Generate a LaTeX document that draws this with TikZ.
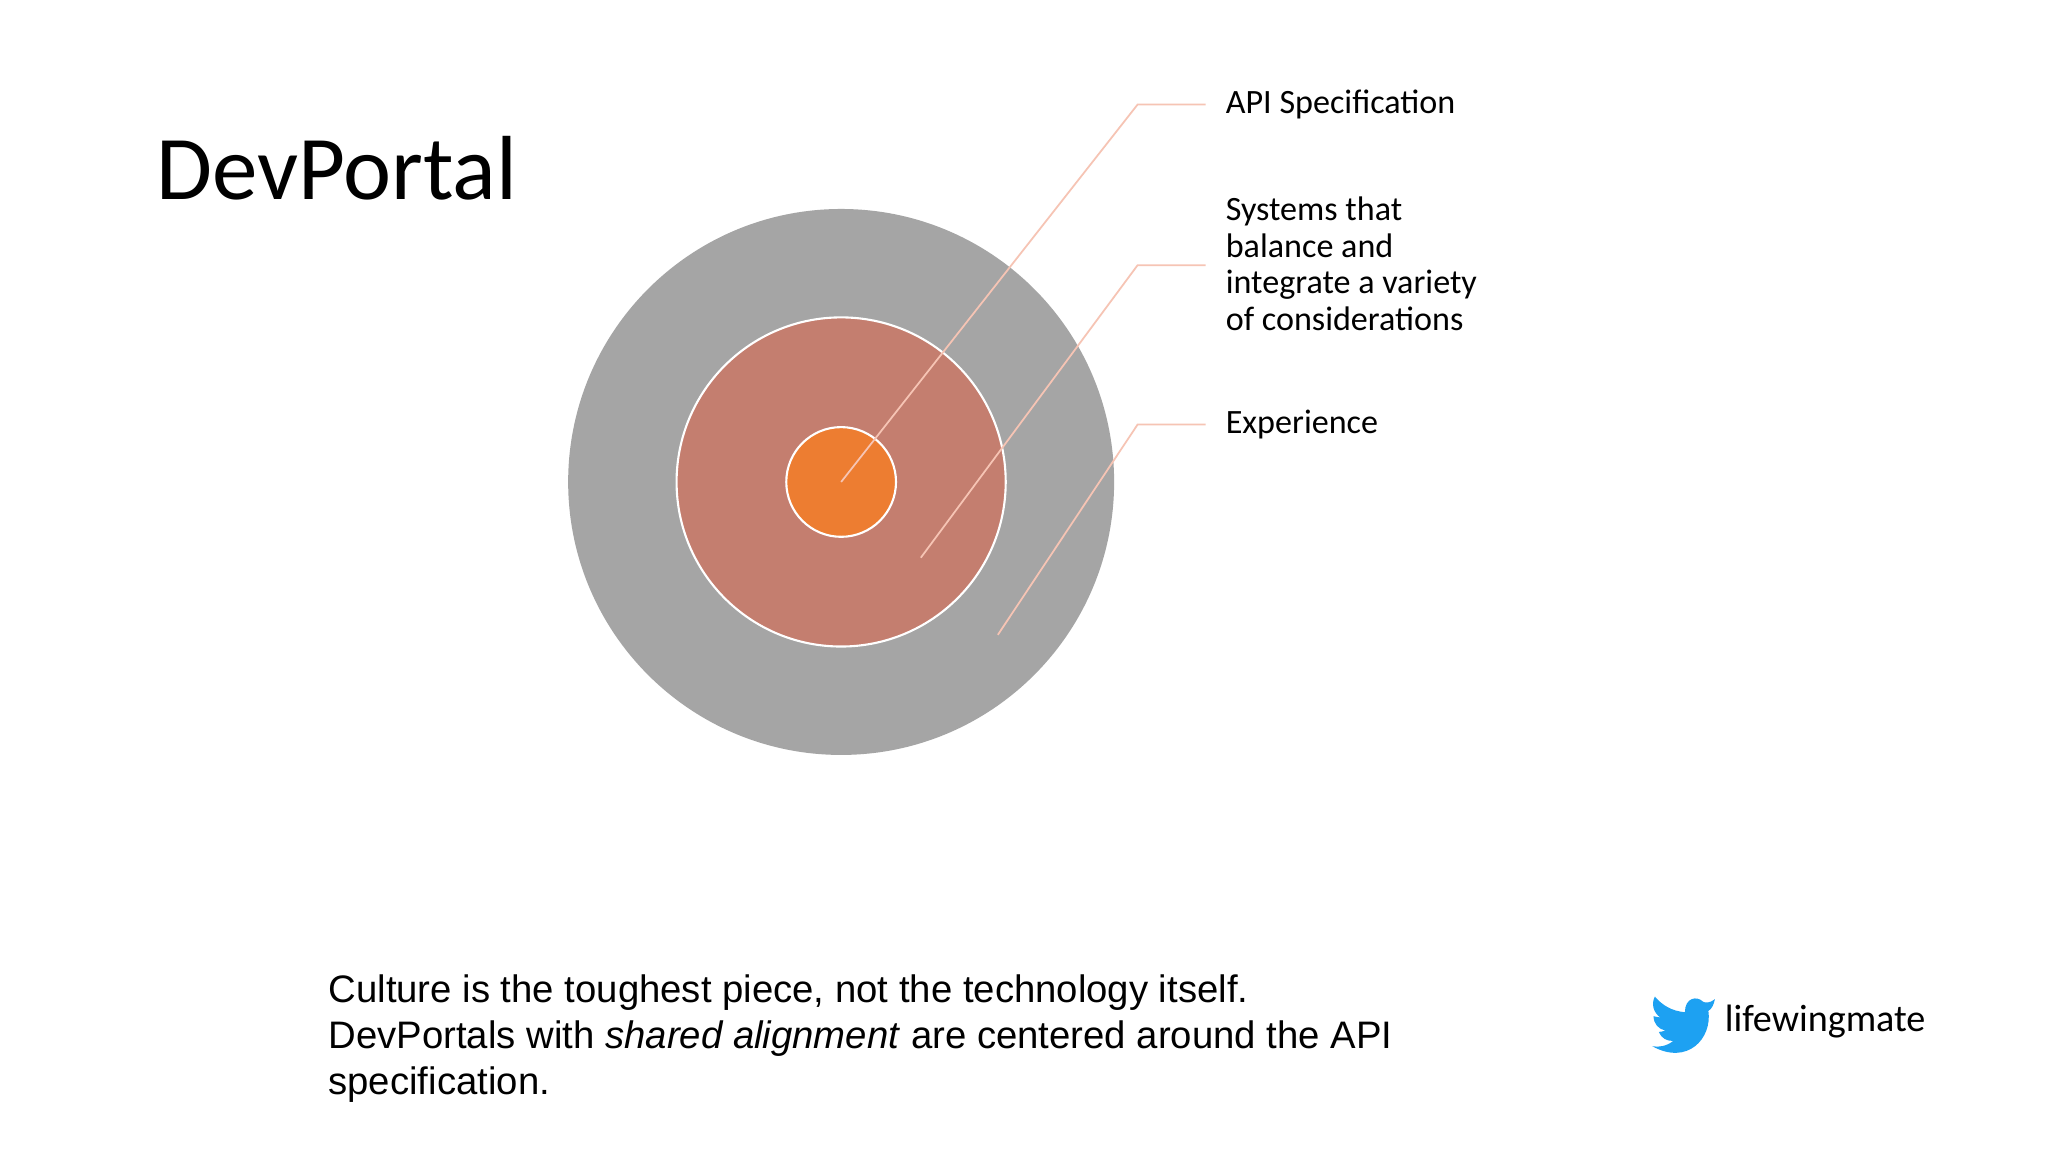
\documentclass[tikz,border=0pt]{standalone}
\usepackage{fontspec}
\setmainfont{Carlito}
\newfontfamily\arialf{Liberation Sans}
\definecolor{outerg}{RGB}{165,165,165}
\definecolor{midr}{RGB}{196,126,111}
\definecolor{orng}{RGB}{237,125,49}
\definecolor{callc}{RGB}{246,196,180}
\definecolor{twb}{RGB}{29,161,242}
\begin{document}
\begin{tikzpicture}[x=0.013061cm,y=-0.013061cm,
  callout/.style={draw=callc,line width=0.5pt},
  lbl/.style={anchor=west,font=\fontsize{9.7}{10.5}\selectfont,align=left,inner sep=0pt}]
\useasboundingbox (0,0) rectangle (1568,882);
\fill[white] (0,0) rectangle (1568,882);
\node[anchor=base west,inner sep=0pt,font=\fontsize{25.9}{30}\selectfont] (title) at (119,153) {DevPortal};
\fill[outerg] (644,369) circle (209);
\filldraw[fill=midr,draw=white,line width=0.6pt] (644,369) circle (126);
\filldraw[fill=orng,draw=white,line width=0.6pt] (644,369) circle (42);
\coordinate (p1) at (644,369); \coordinate (k1) at (871,80); \coordinate (e1) at (923,80);
\coordinate (p2) at (705,427); \coordinate (k2) at (871,203); \coordinate (e2) at (923,203);
\coordinate (p3) at (764,486); \coordinate (k3) at (871,325); \coordinate (e3) at (923,325);
\draw[callout] (p1)--(k1)--(e1);
\draw[callout] (p2)--(k2)--(e2);
\draw[callout] (p3)--(k3)--(e3);
\node[lbl] (l1) at (938,80) {API Specification};
\node[lbl] (l2) at (938,202) {Systems that\\balance and\\integrate a variety\\of considerations};
\node[lbl] (l3) at (938,325) {Experience};
\node[anchor=north west,inner sep=0pt,align=left,font=\arialf\fontsize{10.9}{13}\selectfont] (foot) at (251,746)
 {Culture is the toughest piece, not the technology itself.\\DevPortals with \textit{shared alignment} are centered around the API\\specification.};
\fill[twb]
 (1313,765) .. controls (1309,768) and (1306,768) .. (1304,767)
 .. controls (1299,762) and (1290,764) .. (1290,775)
 .. controls (1280,774) and (1273,770) .. (1267,763)
 .. controls (1264,769) and (1266,775) .. (1271,779)
 .. controls (1269,779) and (1267,778) .. (1266,778)
 .. controls (1266,784) and (1270,788) .. (1275,789)
 .. controls (1273,790) and (1271,790) .. (1270,790)
 .. controls (1272,795) and (1276,797) .. (1281,797)
 .. controls (1276,801) and (1270,802) .. (1265,801)
 .. controls (1292,816) and (1311,795) .. (1308,774)
 .. controls (1311,772) and (1312,769) .. (1313,765) -- cycle;
\node[anchor=west,inner sep=0pt,font=\fontsize{10.85}{12}\selectfont] (tw) at (1320,782) {lifewingmate};
\end{tikzpicture}
\end{document}
